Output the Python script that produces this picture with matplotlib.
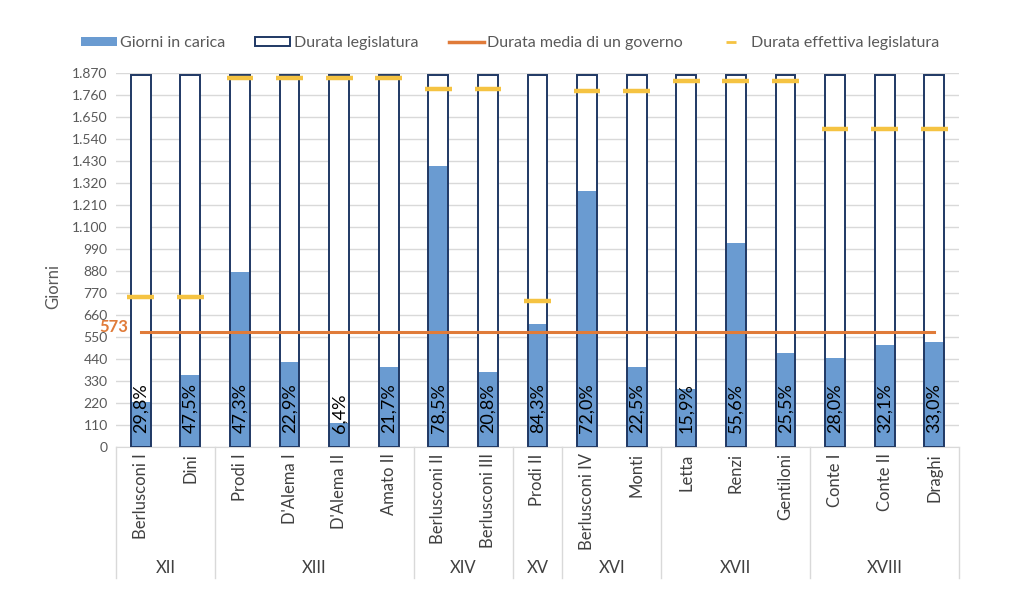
import numpy as np
import matplotlib
matplotlib.use("Agg")
import matplotlib.pyplot as plt
from matplotlib.patches import Patch
from matplotlib.lines import Line2D
from matplotlib.ticker import FuncFormatter, FixedLocator
import matplotlib.transforms as mtransforms

plt.rcParams['font.family'] = ['Lato', 'DejaVu Sans']

governi = ['Berlusconi I', 'Dini', 'Prodi I', "D'Alema I", "D'Alema II", 'Amato II',
           'Berlusconi II', 'Berlusconi III', 'Prodi II', 'Berlusconi IV', 'Monti',
           'Letta', 'Renzi', 'Gentiloni', 'Conte I', 'Conte II', 'Draghi']
legislature = ['XII', 'XIII', 'XIV', 'XV', 'XVI', 'XVII', 'XVIII']
governi_per_leg = [2, 4, 2, 1, 2, 3, 3]
giorni = [224, 357, 873, 423, 118, 401, 1408, 373, 616, 1282, 400, 291, 1019, 467, 445, 510, 525]
percentuali = ['29,8%', '47,5%', '47,3%', '22,9%', '6,4%', '21,7%', '78,5%', '20,8%', '84,3%',
               '72,0%', '22,5%', '15,9%', '55,6%', '25,5%', '28,0%', '32,1%', '33,0%']
durata_legislatura = [1860] * 17
effettiva_leg = [752, 1846, 1793, 731, 1780, 1833, 1590]
media_governo = 573

BLUE = '#6a9bd1'
NAVY = '#1f3864'
ORANGE = '#e07b39'
YELLOW = '#f5c342'
GRAY = '#595959'
GRID = '#d9d9d9'

effettiva = np.repeat(effettiva_leg, governi_per_leg)
x = np.arange(len(governi))
w = 0.4

fig = plt.figure(figsize=(10.24, 6.14), dpi=100)
ax = fig.add_axes([0.1133, 0.2725, 0.8232, 0.6081])

ax.bar(x, durata_legislatura, w, facecolor='white', edgecolor='none', zorder=2)
ax.bar(x, giorni, w, color=BLUE, zorder=3)
ax.bar(x, durata_legislatura, w, facecolor='none', edgecolor=NAVY, lw=1.4, zorder=4)
ax.plot([x[0], x[-1]], [media_governo, media_governo], color=ORANGE, lw=2.2, zorder=5)
ax.hlines(effettiva, x - 0.27, x + 0.27, color=YELLOW, lw=3.2, zorder=6)

for xi, p in zip(x, percentuali):
    ax.text(xi, 70, p, rotation=90, ha='center', va='bottom', fontsize=13, color='black', zorder=7)

ax.text(-0.26, 601, str(media_governo), color=ORANGE, fontsize=12, fontweight='bold',
        ha='right', va='center')

ax.set_xlim(-0.5, len(governi) - 0.5)
ax.set_ylim(0, 1870)
ax.yaxis.set_major_locator(FixedLocator(np.arange(0, 1871, 110)))
ax.yaxis.set_major_formatter(FuncFormatter(lambda v, p: f"{int(v):,}".replace(',', '.')))
ax.tick_params(axis='y', length=0, labelsize=10, labelcolor=GRAY, pad=6)
ax.grid(axis='y', color=GRID, lw=1, zorder=0)
ax.set_axisbelow(True)
for s in ['top', 'right', 'left']:
    ax.spines[s].set_visible(False)
ax.spines['bottom'].set_color(GRID)
ax.set_xticks([])
ax.text(-0.075, 0.43, 'Giorni', transform=ax.transAxes, rotation=90, ha='center', va='center',
        fontsize=12, color=GRAY)

# etichette a due livelli
trans = mtransforms.blended_transform_factory(ax.transData, ax.transAxes)
for xi, g in zip(x, governi):
    ax.text(xi, -0.018, g, rotation=90, ha='center', va='top', fontsize=12,
            color='#404040', transform=trans)
bounds = np.concatenate([[0], np.cumsum(governi_per_leg)]) - 0.5
for b in bounds:
    ax.plot([b, b], [0, -0.352], color=GRID, lw=1, transform=trans, clip_on=False)
for i, leg in enumerate(legislature):
    ax.text((bounds[i] + bounds[i + 1]) / 2, -0.325, leg, ha='center', va='center',
            fontsize=12, color='#404040', transform=trans)

handles = [Patch(facecolor=BLUE, edgecolor='none'),
           Patch(facecolor='white', edgecolor=NAVY, lw=1.4),
           Line2D([], [], color=ORANGE, lw=2.5),
           Line2D([], [], color=YELLOW, marker='_', ms=7, mew=2, ls='none')]
labels = ['Giorni in carica', 'Durata legislatura', 'Durata media di un governo',
          'Durata effettiva legislatura']
fig.legend(handles, labels, loc='upper center', bbox_to_anchor=(0.4985, 0.965), ncol=4,
           frameon=False, fontsize=11.5, handlelength=2.2, handleheight=0.5,
           handletextpad=0.2, columnspacing=1.9, labelcolor=GRAY)

fig.savefig('out.png', dpi=100)
